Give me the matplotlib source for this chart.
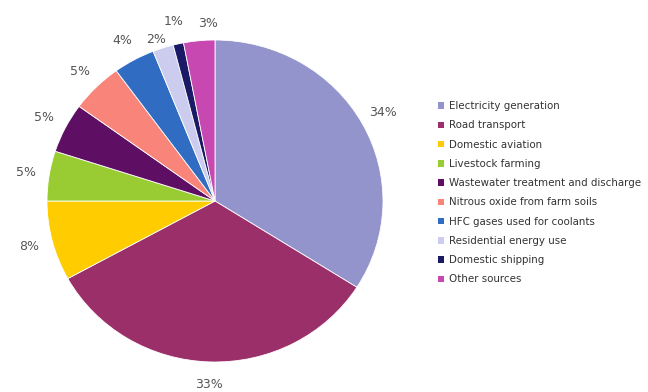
import matplotlib
matplotlib.use('Agg')
import matplotlib.pyplot as plt
from matplotlib.patches import Patch

# emission sources and shares (%)
sources = ['Electricity generation', 'Road transport', 'Domestic aviation',
           'Livestock farming', 'Wastewater treatment and discharge',
           'Nitrous oxide from farm soils', 'HFC gases used for coolants',
           'Residential energy use', 'Domestic shipping', 'Other sources']
shares = [34, 33, 8, 5, 5, 5, 4, 2, 1, 3]
colors = ['#9494cc', '#9b2f6a', '#ffcc00', '#99cc33', '#5e0f63',
          '#f98479', '#2f6cc2', '#ccccee', '#1a1a66', '#c648b0']

fig = plt.figure(figsize=(6.48, 3.92), dpi=100)
W, H = 648, 392
cx, cy, rx, ry = 215, 201, 168, 161
ax = fig.add_axes([(cx - rx) / W, (H - cy - ry) / H, 2 * rx / W, 2 * ry / H])

wedges, texts, autotexts = ax.pie(
    shares, colors=colors, startangle=90, counterclock=False,
    autopct='%1.0f%%', pctdistance=1.14, radius=1.0,
    wedgeprops=dict(edgecolor='white', linewidth=0.6),
    textprops=dict(color='#555555', fontsize=9))
ax.set_aspect('auto')
ax.set_xlim(-1, 1)
ax.set_ylim(-1, 1)

# small labels at the top sit a bit differently in the original
x, y = autotexts[7].get_position()
autotexts[7].set_position((x, y - 0.08))
x, y = autotexts[9].get_position()
autotexts[9].set_position((x + 0.065, y - 0.03))

handles = [Patch(facecolor=c, edgecolor='none') for c in colors]
fig.legend(handles, sources, loc='center left', bbox_to_anchor=(0.662, 0.508),
           frameon=False, fontsize=7.4, handlelength=0.6, handleheight=0.6,
           handletextpad=0.4, labelspacing=0.9, labelcolor='#333333')

fig.savefig('out.png', dpi=100)
